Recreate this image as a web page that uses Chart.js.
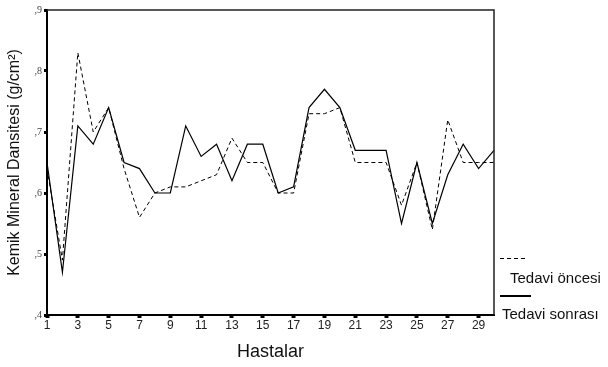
<!DOCTYPE html>
<html><head><meta charset="utf-8">
<script src="https://cdn.jsdelivr.net/npm/chart.js@4.4.0/dist/chart.umd.min.js"></script>
<style>
html,body{margin:0;padding:0;background:#fff;overflow:hidden;}
#wrap{position:relative;width:608px;height:367px;overflow:hidden;}
canvas{position:absolute;left:0;top:0;}
.lg{position:absolute;font-family:'Liberation Sans',Arial,sans-serif;font-size:15px;line-height:15px;color:#111;white-space:nowrap;}
</style></head><body>
<div id="wrap"><canvas id="c" width="608" height="367"></canvas>
<div class="lg" style="left:510px;top:270px">Tedavi öncesi</div>
<div class="lg" style="left:502px;top:306px">Tedavi sonrası</div>
</div>
<script>
// ---- data ----
const patients = ['1','2','3','4','5','6','7','8','9','10','11','12','13','14','15','16','17','18','19','20','21','22','23','24','25','26','27','28','29','30'];
const xTickLabels = ['1','3','5','7','9','11','13','15','17','19','21','23','25','27','29'];
const yTicks = [0.4, 0.5, 0.6, 0.7, 0.8, 0.9];
const seriesNames = ['Tedavi öncesi', 'Tedavi sonrası'];
const before = [0.64,0.49,0.83,0.70,0.74,0.64,0.56,0.60,0.61,0.61,0.62,0.63,0.69,0.65,0.65,0.60,0.60,0.73,0.73,0.74,0.65,0.65,0.65,0.58,0.65,0.54,0.72,0.65,0.65,0.65];
const after  = [0.65,0.47,0.71,0.68,0.74,0.65,0.64,0.60,0.60,0.71,0.66,0.68,0.62,0.68,0.68,0.60,0.61,0.74,0.77,0.74,0.67,0.67,0.67,0.55,0.65,0.55,0.63,0.68,0.64,0.67];

const FONT = "'Liberation Sans', Arial, sans-serif";

const frameAndLegend = {
  id: 'frameAndLegend',
  afterDraw(chart) {
    const {ctx, chartArea: a} = chart;
    ctx.save();
    ctx.strokeStyle = '#222';
    ctx.lineWidth = 1.5;
    ctx.beginPath();
    ctx.moveTo(a.left, a.top);
    ctx.lineTo(a.right, a.top);
    ctx.lineTo(a.right, a.bottom);
    ctx.stroke();
    // legend samples
    const ds = chart.data.datasets;
    ctx.strokeStyle = '#000';
    ctx.lineWidth = 1;
    ctx.setLineDash(ds[0].borderDash);
    ctx.beginPath(); ctx.moveTo(500, 258.5); ctx.lineTo(528, 258.5); ctx.stroke();
    ctx.setLineDash([]);
    ctx.lineWidth = 2;
    ctx.beginPath(); ctx.moveTo(500, 296); ctx.lineTo(531, 296); ctx.stroke();
    ctx.restore();
  }
};

new Chart(document.getElementById('c'), {
  type: 'line',
  data: {
    labels: patients,
    datasets: [
      { label: seriesNames[0], data: before, borderColor: '#000', borderWidth: 1, borderDash: [4,3], pointRadius: 0, tension: 0, fill: false },
      { label: seriesNames[1], data: after,  borderColor: '#000', borderWidth: 1.2, pointRadius: 0, tension: 0, fill: false }
    ]
  },
  options: {
    responsive: false,
    devicePixelRatio: 1,
    animation: false,
    layout: { padding: { left: 0, top: 10, right: 114, bottom: 0 } },
    plugins: { legend: { display: false }, tooltip: { enabled: false } },
    scales: {
      x: {
        type: 'category',
        offset: false,
        border: { color: '#000', width: 2 },
        grid: { drawOnChartArea: false, drawTicks: true, tickLength: 3, tickWidth: 4, tickColor: '#000' },
        ticks: {
          autoSkip: false, maxRotation: 0, padding: 0, color: '#222',
          font: { family: FONT, size: 12 },
          callback: function(v, i) { const l = this.getLabelForValue(v); return xTickLabels.includes(l) ? l : null; }
        },
        title: { display: true, text: 'Hastalar', color: '#111', font: { family: FONT, size: 18 }, padding: { top: 0, bottom: 4 } },
        afterFit(s) { s.height = 52; }
      },
      y: {
        min: 0.4, max: 0.9,
        border: { color: '#000', width: 2 },
        grid: { drawOnChartArea: false, drawTicks: true, tickLength: 3, tickWidth: 3, tickColor: '#000' },
        afterBuildTicks(s) { s.ticks = yTicks.map(v => ({ value: v })); },
        ticks: {
          padding: 2, color: '#444',
          font: { family: "'Liberation Serif', 'Times New Roman', serif", size: 10 },
          callback: v => ',' + Math.round(v * 10)
        },
        title: { display: true, text: 'Kemik Mineral Dansitesi (g/cm²)', color: '#111', font: { family: FONT, size: 16 }, padding: { top: 5, bottom: 0 } },
        afterFit(s) { s.width = 47; }
      }
    }
  },
  plugins: [frameAndLegend]
});
</script>
</body></html>
